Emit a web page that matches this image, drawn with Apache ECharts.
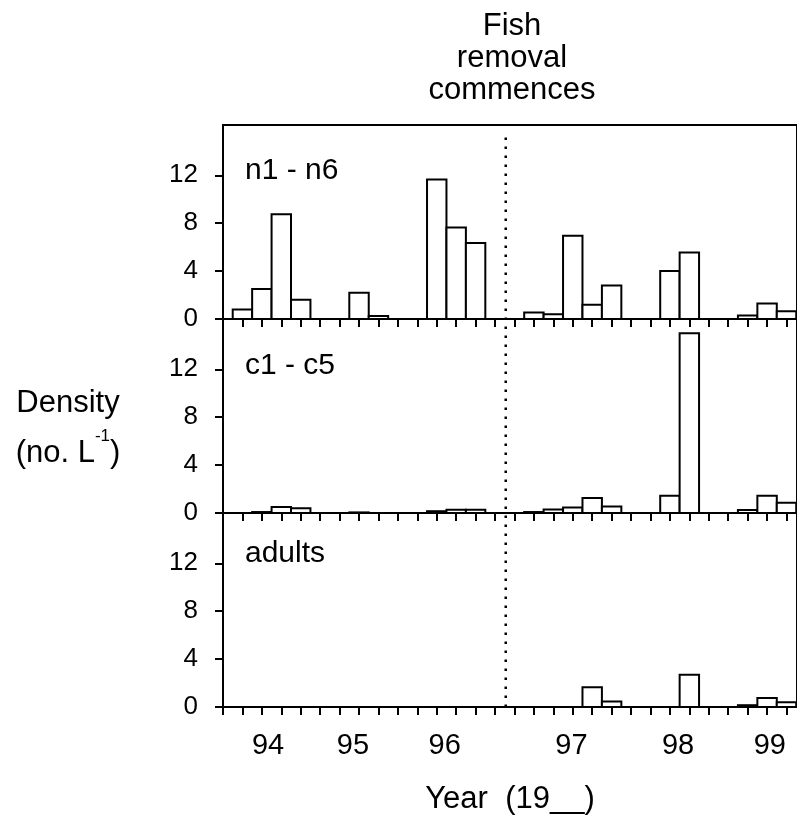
<!DOCTYPE html>
<html><head><meta charset="utf-8">
<script src="https://cdn.jsdelivr.net/npm/echarts@6/dist/echarts.min.js"></script>
<style>html,body{margin:0;padding:0;background:#fff}#c{width:797px;height:822px}</style>
</head><body><div id="c"></div>
<script>
// sampling-date index (one tick per sampling date)
const samples = [0,1,2,3,4,5,6,7,8,9,10,11,12,13,14,15,16,17,18,19,20,21,22,23,24,25,26,27,28,29];
// densities (no. per L)
const nauplii = [0,0.8,2.5,8.75,1.6,0,0,2.2,0.25,0,0,11.65,7.65,6.35,0,0,0.55,0.4,6.95,1.2,2.8,0,0,4.0,5.55,0,0,0.3,1.3,0.65];
const copepodites = [0,0,0.08,0.5,0.4,0,0,0.05,0,0,0,0.15,0.28,0.28,0,0,0.08,0.3,0.45,1.25,0.55,0,0,1.45,15.0,0,0,0.25,1.45,0.85];
const adults = [0,0,0,0,0,0,0,0,0,0,0,0,0,0,0,0,0,0,0,1.65,0.45,0,0,0,2.7,0,0,0.15,0.75,0.4];
const panelNames = ['n1 - n6','c1 - c5','adults'];
const yTicks = [0,4,8,12];
const yearLabels = ['94','95','96','97','98','99'];
const yearPos = [2.32,6.69,11.41,17.93,23.42,28.14];
const fishRemovalStart = 14.55;
const xMax = 29.54; // axis runs past the right edge of the figure

const FONT = 'Liberation Sans, Arial, Helvetica, sans-serif';
const chart = echarts.init(document.getElementById('c'), null, {renderer:'canvas'});
const L = 223, W = 574, H = 194, tops = [125, 319, 513];
const seriesData = [nauplii, copepodites, adults];

const grids = tops.map(t => ({left:L, top:t, width:W, height:H, show:true, borderColor:'#000', borderWidth:2, backgroundColor:'transparent'}));
grids.push({left:L, top:tops[0], width:W, height:H*3, show:false});

const xAxes = tops.map((t,i) => ({
  type:'value', gridIndex:i, min:0, max:xMax,
  axisLine:{onZero:false, lineStyle:{color:'#000', width:2}},
  axisTick:{show:true, customValues:samples, inside:false, length:8, lineStyle:{color:'#000', width:2}},
  axisLabel:{show:false}, splitLine:{show:false}
}));
xAxes.push({
  type:'value', gridIndex:3, min:0, max:xMax, position:'bottom',
  axisLine:{show:false}, axisTick:{show:false}, splitLine:{show:false},
  axisLabel:{customValues:yearPos, formatter:v => { const k = yearPos.findIndex(p => Math.abs(p-v)<1e-6); return k>=0 ? yearLabels[k] : ''; },
    fontSize:29, color:'#000', fontFamily:FONT, margin:24},
  name:'Year  (19__)', nameLocation:'middle', nameGap:77,
  nameTextStyle:{fontSize:31, color:'#000', fontFamily:FONT}
});

const yAxes = tops.map((t,i) => ({
  type:'value', gridIndex:i, min:0, max:16.2,
  axisLine:{show:true, lineStyle:{color:'#000', width:2}},
  axisTick:{show:true, customValues:yTicks, inside:false, length:8, lineStyle:{color:'#000', width:2}},
  axisLabel:{customValues:yTicks, fontSize:26, color:'#000', fontFamily:FONT, margin:25},
  splitLine:{show:false}
}));
yAxes.push({type:'value', gridIndex:3, min:0, max:1, show:false});

function renderBar(params, api) {
  const x = api.value(0), y = api.value(1);
  if (!(y > 0)) return null;
  const p0 = api.coord([x - 0.5, 0]);
  const p1 = api.coord([x + 0.5, y]);
  return {
    type:'rect',
    shape:{x:p0[0], y:p1[1], width:p1[0]-p0[0], height:p0[1]-p1[1]},
    style:{fill:'#fff', stroke:'#000', lineWidth:2}
  };
}

const series = seriesData.map((d,i) => ({
  type:'custom', xAxisIndex:i, yAxisIndex:i, data:samples.map((s,k) => [s, d[k]]),
  renderItem:renderBar, clip:true, silent:true, encode:{x:0, y:1}
}));
series.push({
  type:'line', xAxisIndex:3, yAxisIndex:3, data:[[fishRemovalStart,0],[fishRemovalStart,0.985]],
  symbol:'none', lineStyle:{color:'#000', width:2.5, type:[2.5,6.5]}, silent:true, z:5
});

const labelY = [156, 351, 539];
const graphic = [
  {type:'text', x:512, y:10, style:{text:'Fish\nremoval\ncommences', fontSize:31, fontFamily:FONT, fill:'#000', align:'center', textAlign:'center', verticalAlign:'top', textVerticalAlign:'top', lineHeight:32}},
  {type:'text', x:68, y:378, style:{text:'{a|Density}\n{a|(no. L}{s|-1}{a|)}', fontFamily:FONT, fill:'#000', align:'center', textAlign:'center', verticalAlign:'top', textVerticalAlign:'top',
     rich:{a:{fontSize:31, fontFamily:FONT, lineHeight:50, fill:'#000', color:'#000'}, s:{fontSize:17, fontFamily:FONT, fill:'#000', color:'#000', verticalAlign:'top', lineHeight:38}}}}
];
panelNames.forEach((n,i) => graphic.push({type:'text', x:245, y:labelY[i], style:{text:n, fontSize:30, fontFamily:FONT, fill:'#000', align:'left', verticalAlign:'top'}}));

chart.setOption({
  animation:false, backgroundColor:'#fff',
  grid:grids, xAxis:xAxes, yAxis:yAxes, series:series, graphic:graphic
});
</script></body></html>
